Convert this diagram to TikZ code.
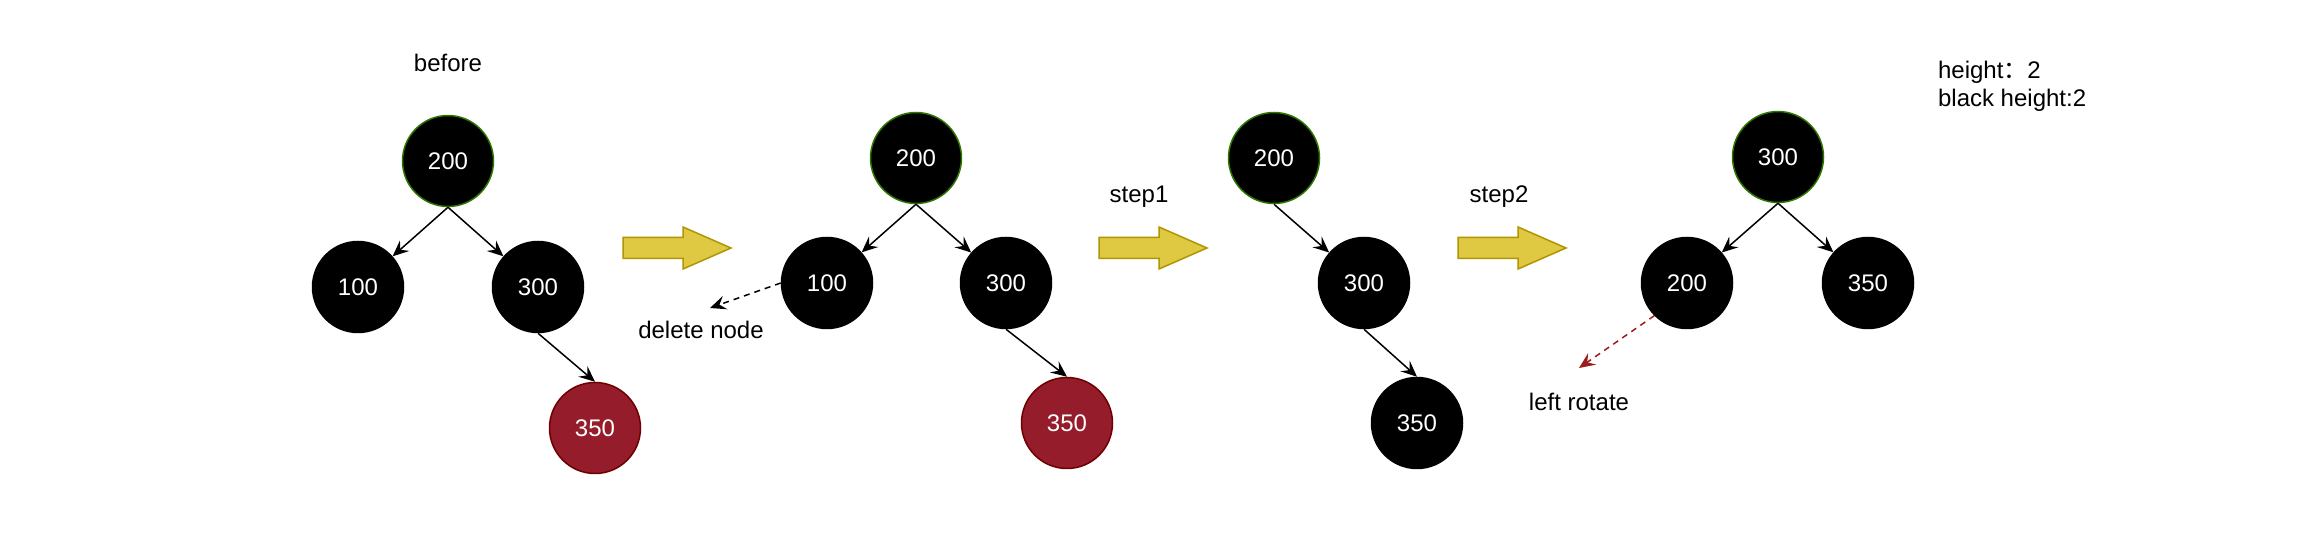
\documentclass[tikz,border=0pt]{standalone}
\usepackage{fontspec}
\setmainfont{Liberation Sans}
\newfontfamily\cjkfont{Noto Sans CJK SC}
\usepackage{xcolor}
\usetikzlibrary{arrows.meta}

\definecolor{rootgreen}{HTML}{2D7600}
\definecolor{nodered}{HTML}{951C2A}
\definecolor{nodeborder}{HTML}{6F0000}
\definecolor{shiftfill}{HTML}{DFC842}
\definecolor{shiftdraw}{HTML}{B09500}
\definecolor{rotred}{HTML}{9E1B1B}

\tikzset{
    blk/.style={circle, fill=black, draw=black, line width=0.75pt, minimum size=45.5pt,
        inner sep=0pt, text=white, font=\fontsize{12}{14}\selectfont},
    blkroot/.style={blk, draw=rootgreen},
    rednode/.style={blk, fill=nodered, draw=nodeborder},
    label/.style={font=\fontsize{12}{14}\selectfont},
    edge/.style={-{Stealth[length=8pt, width=7pt, inset=3pt]}, line width=0.75pt},
    hint/.style={edge, dash pattern=on 3pt off 2.5pt},
    bigarrow/.pic={
        \draw[fill=shiftfill, draw=shiftdraw, line width=0.75pt]
            (0,-10.5) -- (60,-10.5) -- (60,-21) -- (108,0) -- (60,21) -- (60,10.5) -- (0,10.5) -- cycle;
    }
}

\begin{document}
\begin{tikzpicture}[x=0.5pt, y=-0.5pt]

            \useasboundingbox (0,0) rectangle (2304,550);

            % before
            \node (before) at (448,63) [label] {before};
            \node (a200) at (448,161) [blkroot] {200};
            \node (a100) at (358,287) [blk] {100};
            \node (a300) at (538,287) [blk] {300};
            \node (a350) at (595,428) [rednode] {350};
            \draw[edge] (a200.south) -- (a100);
            \draw[edge] (a200.south) -- (a300);
            \draw[edge] (a300.south) -- (a350.north);

            \pic at (623,248) {bigarrow};

            % delete 100
            \node (b200) at (916,158) [blkroot] {200};
            \node (b100) at (827,283) [blk] {100};
            \node (b300) at (1006,283) [blk] {300};
            \node (b350) at (1067,423) [rednode] {350};
            \draw[edge] (b200.south) -- (b100);
            \draw[edge] (b200.south) -- (b300);
            \draw[edge] (b300.south) -- (b350.north);
            \coordinate (del) at (710,308);
            \draw[hint] (b100.west) -- (del);
            \node (deltext) at (701,330) [label] {delete node};

            % step1
            \node (step1) at (1139,197) [label] {step1};
            \pic at (1099,248) {bigarrow};
            \node (c200) at (1274,158) [blkroot] {200};
            \node (c300) at (1364,283) [blk] {300};
            \node (c350) at (1417,423) [blk] {350};
            \draw[edge] (c200.south) -- (c300);
            \draw[edge] (c300.south) -- (c350.north);

            % step2
            \node (step2) at (1499,197) [label] {step2};
            \pic at (1458,248) {bigarrow};
            \node (d300) at (1778,157) [blkroot] {300};
            \node (d200) at (1687,283) [blk] {200};
            \node (d350) at (1868,283) [blk] {350};
            \draw[edge] (d300.south) -- (d200);
            \draw[edge] (d300.south) -- (d350);
            \coordinate (rot) at (1579,368);
            \draw[hint, rotred] (d200.south west) -- (rot);
            \node (rottext) at (1579,402) [label] {left rotate};

            % heights
            \node (info) at (1931,86) [label, anchor=west, align=left]
                {height{\cjkfont ：}2\\black height:2};

\end{tikzpicture}
\end{document}
